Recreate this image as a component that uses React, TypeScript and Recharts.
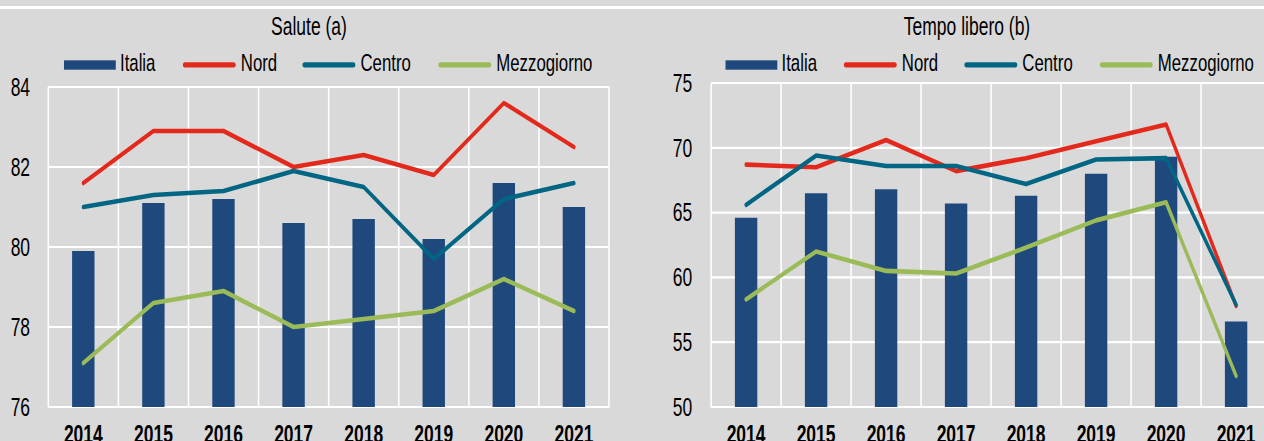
import React from 'react';
import { ComposedChart, Bar, Line, XAxis, YAxis, CartesianGrid } from 'recharts';

const years = ['2014', '2015', '2016', '2017', '2018', '2019', '2020', '2021'];

const saluteItalia = [79.9, 81.1, 81.2, 80.6, 80.7, 80.2, 81.6, 81.0];
const saluteNord = [81.6, 82.9, 82.9, 82.0, 82.3, 81.8, 83.6, 82.5];
const saluteCentro = [81.0, 81.3, 81.4, 81.9, 81.5, 79.7, 81.2, 81.6];
const saluteMezzogiorno = [77.1, 78.6, 78.9, 78.0, 78.2, 78.4, 79.2, 78.4];

const tempoItalia = [64.6, 66.5, 66.8, 65.7, 66.3, 68.0, 69.3, 56.6];
const tempoNord = [68.7, 68.5, 70.6, 68.2, 69.2, 70.5, 71.8, 57.8];
const tempoCentro = [65.6, 69.4, 68.6, 68.6, 67.2, 69.1, 69.2, 57.9];
const tempoMezzogiorno = [58.3, 62.0, 60.5, 60.3, 62.3, 64.4, 65.8, 52.4];

const saluteTicks = [76, 78, 80, 82, 84];
const tempoTicks = [50, 55, 60, 65, 70, 75];

const seriesNames = ['Italia', 'Nord', 'Centro', 'Mezzogiorno'];
const seriesColors = ['#1F497D', '#E3291B', '#006683', '#9BBB59'];

const SX = 0.7;
const FONT = '"Liberation Sans", Arial, sans-serif';

function buildData(a: number[], n: number[], c: number[], m: number[]) {
  return years.map((y, i) => ({ year: y, Italia: a[i], Nord: n[i], Centro: c[i], Mezzogiorno: m[i] }));
}

const saluteData = buildData(saluteItalia, saluteNord, saluteCentro, saluteMezzogiorno);
const tempoData = buildData(tempoItalia, tempoNord, tempoCentro, tempoMezzogiorno);

type PanelProps = {
  data: any[];
  title: string;
  ticks: number[];
  domain: [number, number];
  panelLeft: number;
  chartWidth: number;
  yAxisWidth: number;
  marginRight: number;
  marginTop: number;
  tickMargin: number;
  titleX: number;
  legendX: number[];
};

function Panel(p: PanelProps) {
  const gridGen = (props: any) => {
    const off = props.offset;
    const n = years.length;
    const arr: number[] = [];
    for (let i = 0; i <= n; i++) arr.push(off.left + (off.width * i) / n);
    return arr;
  };
  return (
    <div
      style={{
        position: 'absolute',
        left: p.panelLeft,
        top: 0,
        width: p.chartWidth,
        height: 441,
        transform: `scaleX(${SX})`,
        transformOrigin: '0 0',
      }}
    >
      <ComposedChart
        width={p.chartWidth}
        height={441}
        data={p.data}
        margin={{ top: p.marginTop, right: p.marginRight, bottom: 0, left: 0 }}
        barCategoryGap={0}
      >
        <CartesianGrid
          stroke="#FFFFFF"
          strokeWidth={2.2}
          verticalCoordinatesGenerator={gridGen}
        />
        <XAxis
          dataKey="year"
          tickLine={false}
          axisLine={false}
          height={34}
          tickSize={0}
          tickMargin={18}
          interval={0}
          tick={{ fill: '#000', fontSize: 25, fontWeight: 'bold', fontFamily: FONT }}
        />
        <YAxis
          domain={p.domain}
          ticks={p.ticks}
          interval={0}
          width={p.yAxisWidth}
          tickLine={false}
          axisLine={false}
          tickSize={0}
          tickMargin={p.tickMargin}
          allowDataOverflow
          tick={{ fill: '#000', fontSize: 25, fontFamily: FONT }}
        />
        <Bar dataKey="Italia" fill={seriesColors[0]} barSize={32} isAnimationActive={false} />
        <Line dataKey="Nord" type="linear" stroke={seriesColors[1]} strokeWidth={4.6} dot={false} strokeLinecap="round" strokeLinejoin="round" isAnimationActive={false} />
        <Line dataKey="Centro" type="linear" stroke={seriesColors[2]} strokeWidth={4.6} dot={false} strokeLinecap="round" strokeLinejoin="round" isAnimationActive={false} />
        <Line dataKey="Mezzogiorno" type="linear" stroke={seriesColors[3]} strokeWidth={4.6} dot={false} strokeLinecap="round" strokeLinejoin="round" isAnimationActive={false} />
      </ComposedChart>
      <svg
        width={p.chartWidth}
        height={441}
        style={{ position: 'absolute', left: 0, top: 0, pointerEvents: 'none' }}
      >
        <text x={p.titleX} y={35} textAnchor="middle" fontSize={25} fontFamily={FONT} fill="#000">
          {p.title}
        </text>
        {seriesNames.map((name, i) => {
          const x0 = p.legendX[i];
          const isBar = i === 0;
          const sw = isBar ? 74 : 78;
          return (
            <g key={name}>
              {isBar ? (
                <rect x={x0} y={60.3} width={sw} height={9.4} fill={seriesColors[i]} />
              ) : (
                <line
                  x1={x0 + 3.8}
                  x2={x0 + sw - 3.8}
                  y1={64.8}
                  y2={64.8}
                  stroke={seriesColors[i]}
                  strokeWidth={5.3}
                  strokeLinecap="round"
                />
              )}
              <text x={x0 + sw + 6} y={70.7} fontSize={24} fontFamily={FONT} fill="#000">
                {name}
              </text>
            </g>
          );
        })}
      </svg>
    </div>
  );
}

export default function App() {
  return (
    <div
      style={{
        position: 'absolute',
        left: 0,
        top: 0,
        width: 1264,
        height: 441,
        overflow: 'hidden',
        background: '#D9D9D9',
      }}
    >
      <div style={{ position: 'absolute', left: 0, top: 6, width: 1264, height: 3, background: '#FFFFFF' }} />
      <Panel
        data={saluteData}
        title="Salute (a)"
        ticks={saluteTicks}
        domain={[76, 84]}
        panelLeft={0}
        chartWidth={903}
        yAxisWidth={69}
        marginRight={33}
        marginTop={87}
        tickMargin={26}
        titleX={441.4}
        legendX={[91.4, 260, 430.9, 625]}
      />
      <Panel
        data={tempoData}
        title="Tempo libero (b)"
        ticks={tempoTicks}
        domain={[50, 75]}
        panelLeft={632}
        chartWidth={930}
        yAxisWidth={113}
        marginRight={17}
        marginTop={83}
        tickMargin={27}
        titleX={478.6}
        legendX={[133.6, 301.4, 473.6, 667.1]}
      />
    </div>
  );
}
